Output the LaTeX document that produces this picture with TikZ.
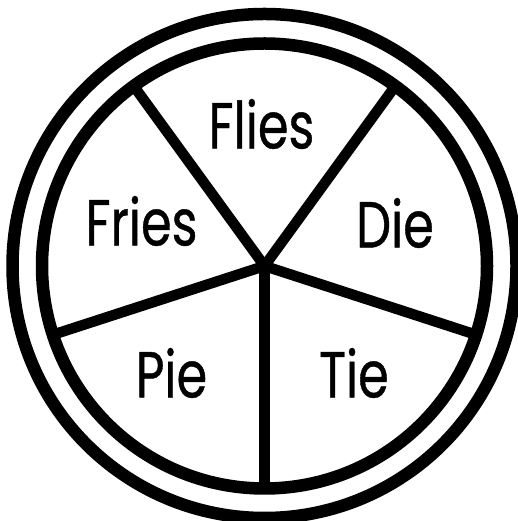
\documentclass[tikz,border=0pt]{standalone}
\usepackage{fontspec}
\usetikzlibrary{calc}
\newfontfamily\labelfont[FakeStretch=0.76,FakeBold=0.6]{Poppins}
\begin{document}
\begin{tikzpicture}[x=1pt,y=1pt,
  ring/.style={line width=12.5pt, draw=black},
  spoke/.style={line width=10.5pt, draw=black},
  lbl/.style={inner sep=0pt, font=\labelfont\fontsize{65}{65}\selectfont}]
\useasboundingbox (0,0) rectangle (518,521);
\clip (0,0) rectangle (518,521);
\fill[white] (0,0) rectangle (518,521);
\coordinate (c) at (264.5,255);
\foreach \a [count=\i] in {270,342,54,126,198}
  \coordinate (e\i) at ($(c)+(\a:222)$);
\foreach \i in {1,...,5}
  \draw[spoke] (c) -- (e\i);
\draw[ring] (c) circle (222.5);
\draw[ring] (c) circle (252);
\node[lbl] (flies) at (261.5,397) {Flies};
\node[lbl] (fries) at (141.5,300) {Fries};
\node[lbl] (die) at (395,298) {Die};
\node[lbl] (pie) at (171.5,148) {Pie};
\node[lbl] (tie) at (354,148) {Tie};
\end{tikzpicture}
\end{document}
